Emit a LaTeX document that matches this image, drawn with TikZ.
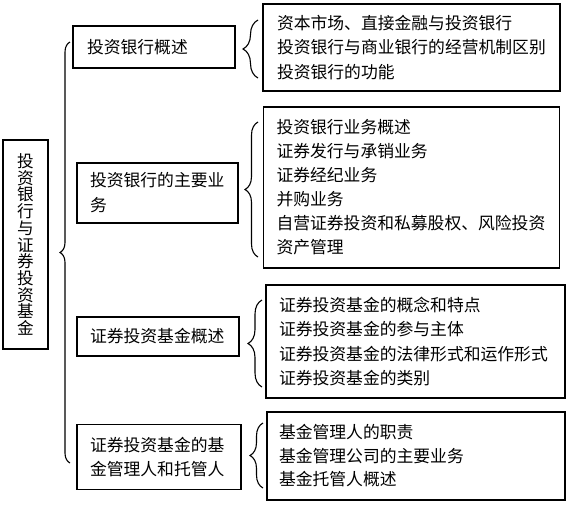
\documentclass[tikz,border=0pt]{standalone}
\usepackage{fontspec}
\setmainfont{Noto Sans CJK SC}
\usetikzlibrary{decorations.pathreplacing}
\begin{document}
\begin{tikzpicture}[x=1pt,y=-1pt,
  box/.style={draw=black, line width=1.2pt, rectangle, align=left, inner ysep=0pt,
    font=\fontsize{16.8}{24.5}\selectfont},
  brc/.style={draw=black, line width=1.1pt, decorate, decoration={brace, amplitude=#1, aspect=0.5}}]
\useasboundingbox (0,0) rectangle (569,504);
% root
\node[box, minimum width=45, minimum height=209, text width=17, inner xsep=14pt,
  font=\fontsize{16.6}{16.7}\selectfont, align=center] (root) at (25.5,244.5)
  {投\\资\\银\\行\\与\\证\\券\\投\\资\\基\\金};
% level 1
\node[box, minimum width=162, minimum height=42, text width=134, inner xsep=14pt] (a) at (154,47) {投资银行概述};
\node[box, minimum width=161, minimum height=60, text width=135, inner xsep=13pt,
  font=\fontsize{16.8}{25}\selectfont] (b) at (157.5,193) {投资银行的主要业\\务};
\node[box, minimum width=162, minimum height=39, text width=136, inner xsep=13pt] (c) at (158,336.5) {证券投资基金概述};
\node[box, minimum width=164, minimum height=65, text width=138, inner xsep=13pt,
  font=\fontsize{16.8}{23.5}\selectfont] (d) at (159,457) {证券投资基金的基\\金管理人和托管人};
% level 2
\node[box, minimum width=297, minimum height=87, text width=269, inner xsep=14pt] (a1) at (411.5,47.5)
  {资本市场、直接金融与投资银行\\投资银行与商业银行的经营机制区别\\投资银行的功能};
\node[box, minimum width=296, minimum height=161, text width=270, inner xsep=13pt,
  font=\fontsize{16.8}{24}\selectfont] (b1) at (411.5,187.5)
  {投资银行业务概述\\证券发行与承销业务\\证券经纪业务\\并购业务\\自营证券投资和私募股权、风险投资\\资产管理};
\node[box, minimum width=299, minimum height=113, text width=273, inner xsep=13pt,
  font=\fontsize{16.8}{24.5}\selectfont] (c1) at (415.5,341.5)
  {证券投资基金的概念和特点\\证券投资基金的参与主体\\证券投资基金的法律形式和运作形式\\证券投资基金的类别};
\node[box, minimum width=298, minimum height=88, text width=274, inner xsep=12pt,
  font=\fontsize{16.8}{23.5}\selectfont] (d1) at (416,456)
  {基金管理人的职责\\基金管理公司的主要业务\\基金托管人概述};
% brace end points
\coordinate (B0b) at (70,463); \coordinate (B0t) at (70,42);
\coordinate (B1b) at (258,78); \coordinate (B1t) at (258,20);
\coordinate (B2b) at (258,257); \coordinate (B2t) at (258,122);
\coordinate (B3b) at (262,387); \coordinate (B3t) at (262,300);
\coordinate (B4b) at (263,488); \coordinate (B4t) at (263,423);
\draw[brc=10] (B0b) -- (B0t);
\draw[brc=15] (B1b) -- (B1t);
\draw[brc=13] (B2b) -- (B2t);
\draw[brc=14] (B3b) -- (B3t);
\draw[brc=13] (B4b) -- (B4t);
\end{tikzpicture}
\end{document}
